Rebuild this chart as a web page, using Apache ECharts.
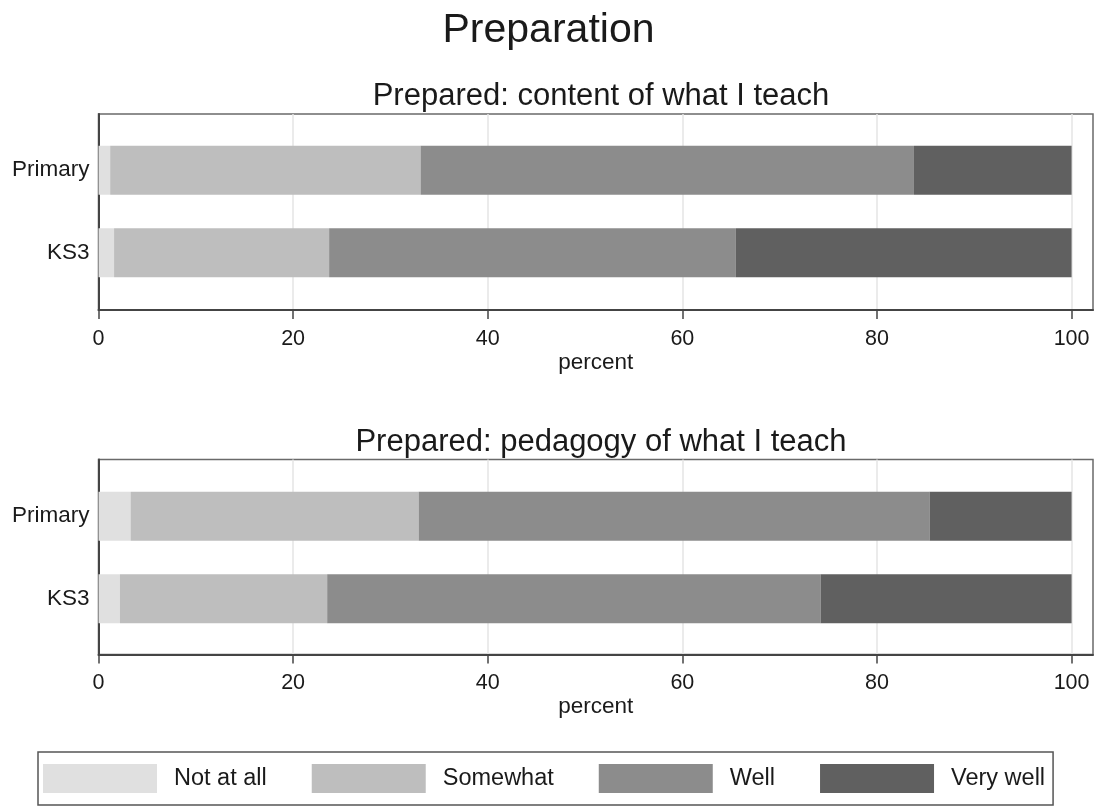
<!DOCTYPE html>
<html>
<head>
<meta charset="utf-8">
<script src="https://cdn.jsdelivr.net/npm/echarts@6/dist/echarts.min.js"></script>
<style>
  html, body { margin: 0; padding: 0; background: #fff; }
  #chart { width: 1097px; height: 807px; }
</style>
</head>
<body>
<div id="chart"></div>
<script>
// categories (bottom to top on the y axis)
var groups = ['KS3', 'Primary']
var levels = ['Not at all', 'Somewhat', 'Well', 'Very well']
var levelColors = ['#e0e0e0', '#bebebe', '#8c8c8c', '#606060']
var xTicks = [0, 20, 40, 60, 80, 100]

// percent per level, [KS3, Primary]
var contentNotAtAll = [1.6, 1.2]
var contentSomewhat = [22.1, 31.9]
var contentWell = [41.8, 50.7]
var contentVeryWell = [34.5, 16.2]

var pedagogyNotAtAll = [2.2, 3.3]
var pedagogySomewhat = [21.3, 29.6]
var pedagogyWell = [50.7, 52.5]
var pedagogyVeryWell = [25.8, 14.6]

var panelTitles = ['Prepared: content of what I teach', 'Prepared: pedagogy of what I teach']
var panelData = [
  [contentNotAtAll, contentSomewhat, contentWell, contentVeryWell],
  [pedagogyNotAtAll, pedagogySomewhat, pedagogyWell, pedagogyVeryWell]
]

var textColor = '#1a1a1a'
var font = 'Liberation Sans, Arial, sans-serif'

// frame grid + inner grid per panel
var frames = [{ top: 114, height: 196 }, { top: 459.5, height: 195 }]
var inners = [{ top: 129, height: 165 }, { top: 475, height: 165 }]

var grid = []
var xAxis = []
var yAxis = []
var series = []
var titles = [{
  text: 'Preparation',
  left: 'center',
  top: 5,
  textStyle: { fontSize: 41, fontWeight: 'normal', color: textColor, fontFamily: font }
}]

for (var p = 0; p < 2; p++) {
  titles.push({
    text: panelTitles[p],
    left: 596,
    textAlign: 'center',
    top: frames[p].top - 38,
    textStyle: { fontSize: 31, fontWeight: 'normal', color: textColor, fontFamily: font }
  })
  // outer frame
  grid.push({
    left: 98.5, right: 4, top: frames[p].top, height: frames[p].height,
    show: true, borderColor: '#6a6a6a', borderWidth: 1.5, backgroundColor: '#fff'
  })
  // inner grid holding the bars
  grid.push({
    left: 98.5, right: 4, top: inners[p].top, height: inners[p].height
  })
  var gOuter = p * 2
  var gInner = p * 2 + 1
  xAxis.push({
    type: 'value', gridIndex: gOuter, min: 0, max: 102.2, interval: 20,
    name: 'percent', nameLocation: 'middle', nameGap: 38,
    nameTextStyle: { fontSize: 22.5, color: textColor, fontFamily: font },
    axisLine: { show: true, lineStyle: { color: '#444', width: 2 } },
    axisTick: { show: true, length: 9, customValues: xTicks, lineStyle: { color: '#444', width: 1.5 } },
    axisLabel: { customValues: xTicks, fontSize: 21.5, color: textColor, fontFamily: font, margin: 18 },
    splitLine: { show: true, lineStyle: { color: '#e4e4e4', width: 1.5 } }
  })
  xAxis.push({
    type: 'value', gridIndex: gInner, min: 0, max: 102.2, show: false,
    splitLine: { show: false }
  })
  yAxis.push({
    type: 'value', gridIndex: gOuter, min: 0, max: 1,
    axisLine: { show: true, lineStyle: { color: '#444', width: 2 } },
    axisTick: { show: false }, axisLabel: { show: false }, splitLine: { show: false }
  })
  yAxis.push({
    type: 'category', gridIndex: gInner, data: groups,
    axisLine: { show: false }, axisTick: { show: false },
    axisLabel: { fontSize: 22.5, color: textColor, fontFamily: font, margin: 9 }
  })
  for (var k = 0; k < levels.length; k++) {
    series.push({
      name: levels[k],
      type: 'bar',
      stack: 'panel' + p,
      xAxisIndex: p * 2 + 1,
      yAxisIndex: p * 2 + 1,
      barWidth: 49,
      itemStyle: { color: levelColors[k] },
      emphasis: { disabled: true },
      data: panelData[p][k]
    })
  }
}

var chart = echarts.init(document.getElementById('chart'))
chart.setOption({
  animation: false,
  title: titles,
  grid: grid,
  xAxis: xAxis,
  yAxis: yAxis,
  legend: {
    data: levels,
    left: 38,
    top: 752,
    icon: 'rect',
    itemWidth: 114,
    itemHeight: 29,
    itemGap: 45,
    padding: [12, 8, 12, 5],
    borderColor: '#555',
    borderWidth: 1.5,
    textStyle: { fontSize: 23.5, color: textColor, fontFamily: font, padding: [0, 0, 0, 12] }
  },
  series: series
})
</script>
</body>
</html>
